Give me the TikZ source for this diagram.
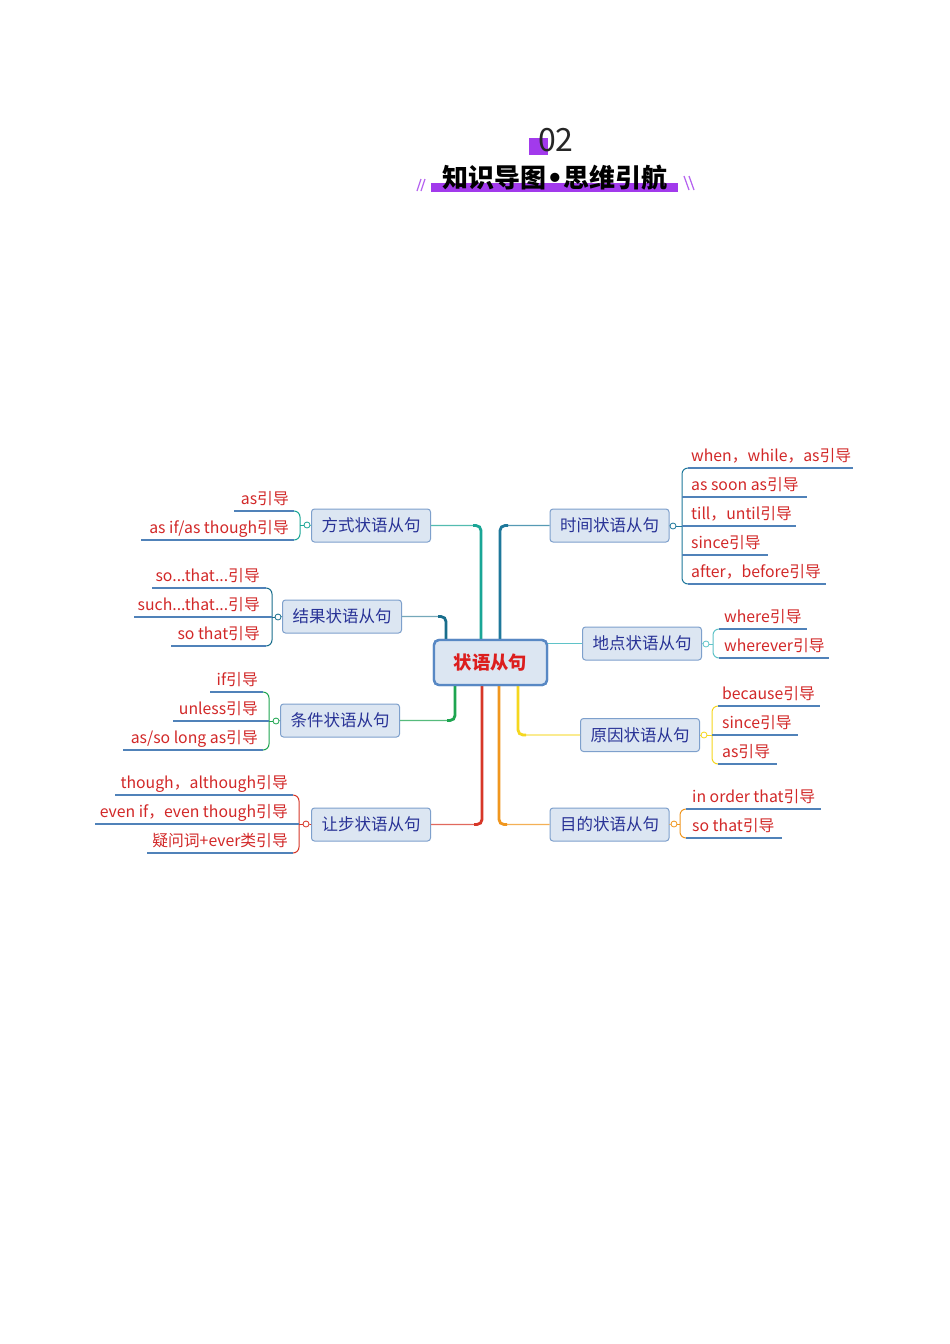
\documentclass[tikz,border=0pt]{standalone}
\usepackage{fontspec}
\setmainfont{Noto Sans CJK SC}
\newfontfamily\bulletfont{DejaVu Sans}
\usetikzlibrary{calc}
\definecolor{purp}{RGB}{162,58,236}
\definecolor{boxfill}{RGB}{220,230,242}
\definecolor{boxdraw}{RGB}{126,160,204}
\definecolor{rootdraw}{RGB}{88,136,196}
\definecolor{boxtext}{RGB}{40,50,150}
\definecolor{rootred}{RGB}{220,30,30}
\definecolor{leaftext}{RGB}{210,40,40}
\definecolor{ulcol}{RGB}{80,130,185}
\definecolor{cFang}{RGB}{26,166,150}
\definecolor{cShi}{RGB}{30,120,155}
\definecolor{cJie}{RGB}{25,110,140}
\definecolor{cDi}{RGB}{95,195,200}
\definecolor{cTiao}{RGB}{30,165,80}
\definecolor{cRang}{RGB}{215,55,40}
\definecolor{cMu}{RGB}{240,150,30}
\definecolor{cYuan}{RGB}{245,215,30}
\tikzset{
 mbox/.style={draw=boxdraw, fill=boxfill, rounded corners=3pt, line width=1pt, minimum width=119pt, minimum height=33pt, inner sep=0pt, text=boxtext, font=\fontsize{16.5}{16.5}\selectfont},
 root/.style={draw=rootdraw, fill=boxfill, rounded corners=5pt, line width=2.4pt, minimum width=113pt, minimum height=45pt, inner sep=0pt, text=rootred, font=\fontsize{18.3}{18.3}\selectfont\bfseries},
 leaf/.style={inner sep=0pt, text=leaftext, font=\fontsize{15.8}{15.8}\selectfont},
 uline/.style={draw=ulcol, line width=1.3pt},
 trunk/.style={line width=2.8pt, rounded corners=5pt},
 twig/.style={line width=1.1pt, rounded corners=5pt},
 brace/.style={line width=1pt, rounded corners=6pt},
 knob/.style={circle, draw, fill=white, inner sep=0pt, minimum size=6pt, line width=0.8pt},
}
\begin{document}
\begin{tikzpicture}[x=1pt,y=-1pt]
\useasboundingbox (0,0) rectangle (950,1344);
\fill[white] (0,0) rectangle (950,1344);

% ---------- title ----------
\fill[purp] (529,138) rectangle (548,155);
\node[anchor=base west, inner sep=0pt, text=black!85, font=\fontsize{32}{32}\selectfont] (num) at (538,151) {02};
\fill[purp] (431,183) rectangle (678,192);
\node[inner sep=0pt, text=black, font=\fontsize{26}{26}\selectfont\bfseries] (title) at (555,178) {知识导图{\bulletfont •}思维引航};
\draw[purp!80, line width=1.2pt] (417,191) -- (421,179) (421,191) -- (425,179);
\draw[purp!80, line width=1.2pt] (684,176) -- (689,190) (689,176) -- (694,190);

% ---------- main nodes ----------
\node[root] (root) at (490.5,662.5) {状语从句};
\node[mbox] (fang) at (371,525.5) {方式状语从句};
\node[mbox] (shi)  at (609.5,525.5) {时间状语从句};
\node[mbox] (jie)  at (342,616.5) {结果状语从句};
\node[mbox] (di)   at (642,643.5) {地点状语从句};
\node[mbox] (tiao) at (340,720.5) {条件状语从句};
\node[mbox] (yuan) at (640,735) {原因状语从句};
\node[mbox] (rang) at (371,824.5) {让步状语从句};
\node[mbox] (mu)   at (609.5,824.5) {目的状语从句};

% ---------- trunk bases ----------
\coordinate (rFang) at ([xshift=-9.5pt]root.north);
\coordinate (rShi)  at ([xshift=9.5pt]root.north);
\coordinate (rJie)  at ([xshift=-44.5pt]root.north);
\coordinate (rTiao) at ([xshift=-35.5pt]root.south);
\coordinate (rRang) at ([xshift=-8.5pt]root.south);
\coordinate (rMu)   at ([xshift=8.5pt]root.south);
\coordinate (rYuan) at ([xshift=27.5pt]root.south);
\coordinate (rDi)   at (root.east |- di.west);

\draw[twig,cFang!75] (rFang) |- (fang.east);
\draw[trunk,cFang] (rFang) |- ($(rFang |- fang.east)+(-8,0)$);
\draw[twig,cShi!75] (rShi) |- (shi.west);
\draw[trunk,cShi] (rShi) |- ($(rShi |- shi.west)+(8,0)$);
\draw[twig,cJie!60] (rJie) |- (jie.east);
\draw[trunk,cJie] (rJie) |- ($(rJie |- jie.east)+(-8,0)$);
\draw[twig,cDi] (rDi) -- (di.west);
\draw[twig,cTiao!75] (rTiao) |- (tiao.east);
\draw[trunk,cTiao] (rTiao) |- ($(rTiao |- tiao.east)+(-8,0)$);
\draw[twig,cRang!75] (rRang) |- (rang.east);
\draw[trunk,cRang] (rRang) |- ($(rRang |- rang.east)+(-8,0)$);
\draw[twig,cMu!75] (rMu) |- (mu.west);
\draw[trunk,cMu] (rMu) |- ($(rMu |- mu.west)+(8,0)$);
\draw[twig,cYuan!75] (rYuan) |- (yuan.west);
\draw[trunk,cYuan] (rYuan) |- ($(rYuan |- yuan.west)+(8,0)$);
\node[root] at (root) {状语从句};

% ---------- 时间 ----------
\node[knob,draw=cShi] (kShi) at (673,526) {};
\draw[cShi,line width=0.8pt] (shi.east) -- (kShi);
\draw[brace,cShi] (kShi) -- (682,526);
\draw[brace,cShi] (688,468) -- (682,468) -- (682,584) -- (688,584);
\node[leaf,anchor=base west] (s1) at (691,461) {when，while，as引导};
\node[leaf,anchor=base west] (s2) at (691,490) {as soon as引导};
\node[leaf,anchor=base west] (s3) at (691,519) {till，until引导};
\node[leaf,anchor=base west] (s4) at (691,548) {since引导};
\node[leaf,anchor=base west] (s5) at (691,577) {after，before引导};
\draw[uline] (688,468) -- (853,468);
\draw[uline] (682,497) -- (807,497);
\draw[uline] (682,526) -- (796,526);
\draw[uline] (682,555) -- (768,555);
\draw[uline] (688,584) -- (826,584);

% ---------- 地点 ----------
\node[knob,draw=cDi] (kDi) at (706,644) {};
\draw[cDi,line width=0.8pt] (di.east) -- (kDi);
\draw[brace,cDi] (kDi) -- (713,644);
\draw[brace,cDi] (719,629) -- (713,629) -- (713,658) -- (719,658);
\node[leaf,anchor=base west] (d1) at (724,622) {where引导};
\node[leaf,anchor=base west] (d2) at (724,651) {wherever引导};
\draw[uline] (719,629) -- (807,629);
\draw[uline] (719,658) -- (829,658);

% ---------- 原因 ----------
\node[knob,draw=cYuan] (kYuan) at (704,735) {};
\draw[cYuan,line width=0.8pt] (yuan.east) -- (kYuan);
\draw[brace,cYuan] (kYuan) -- (712,735);
\draw[brace,cYuan] (718,706) -- (712,706) -- (712,764) -- (718,764);
\node[leaf,anchor=base west] (y1) at (722,699) {because引导};
\node[leaf,anchor=base west] (y2) at (722,728) {since引导};
\node[leaf,anchor=base west] (y3) at (722,757) {as引导};
\draw[uline] (718,706) -- (820,706);
\draw[uline] (712,735) -- (798,735);
\draw[uline] (718,764) -- (777,764);

% ---------- 目的 ----------
\node[knob,draw=cMu] (kMu) at (674,824) {};
\draw[cMu,line width=0.8pt] (mu.east) -- (kMu);
\draw[brace,cMu] (kMu) -- (680,824);
\draw[brace,cMu] (686,809) -- (680,809) -- (680,838) -- (686,838);
\node[leaf,anchor=base west] (m1) at (692,802) {in order that引导};
\node[leaf,anchor=base west] (m2) at (692,831) {so that引导};
\draw[uline] (686,809) -- (821,809);
\draw[uline] (686,838) -- (782,838);

% ---------- 方式 ----------
\node[knob,draw=cFang] (kFang) at (307,525) {};
\draw[cFang,line width=0.8pt] (fang.west) -- (kFang);
\draw[brace,cFang] (kFang) -- (300,525);
\draw[brace,cFang] (294,511) -- (300,511) -- (300,540) -- (294,540);
\node[leaf,anchor=base east] (f1) at (289,504) {as引导};
\node[leaf,anchor=base east] (f2) at (289,533) {as if/as though引导};
\draw[uline] (234,511) -- (294,511);
\draw[uline] (141,540) -- (294,540);

% ---------- 结果 ----------
\node[knob,draw=cJie] (kJie) at (278,617) {};
\draw[cJie,line width=0.8pt] (jie.west) -- (kJie);
\draw[brace,cJie] (kJie) -- (272,617);
\draw[brace,cJie] (266,588) -- (272,588) -- (272,646) -- (266,646);
\node[leaf,anchor=base east] (j1) at (260,581) {so...that...引导};
\node[leaf,anchor=base east] (j2) at (260,610) {such...that...引导};
\node[leaf,anchor=base east] (j3) at (260,639) {so that引导};
\draw[uline] (152,588) -- (266,588);
\draw[uline] (134,617) -- (272,617);
\draw[uline] (171,646) -- (266,646);

% ---------- 条件 ----------
\node[knob,draw=cTiao] (kTiao) at (276,721) {};
\draw[cTiao,line width=0.8pt] (tiao.west) -- (kTiao);
\draw[brace,cTiao] (kTiao) -- (269,721);
\draw[brace,cTiao] (263,692) -- (269,692) -- (269,750) -- (263,750);
\node[leaf,anchor=base east] (t1) at (258,685) {if引导};
\node[leaf,anchor=base east] (t2) at (258,714) {unless引导};
\node[leaf,anchor=base east] (t3) at (258,743) {as/so long as引导};
\draw[uline] (210,692) -- (263,692);
\draw[uline] (173,721) -- (269,721);
\draw[uline] (123,750) -- (263,750);

% ---------- 让步 ----------
\node[knob,draw=cRang] (kRang) at (306,824) {};
\draw[cRang,line width=0.8pt] (rang.west) -- (kRang);
\draw[brace,cRang] (kRang) -- (299,824);
\draw[brace,cRang] (293,795) -- (299,795) -- (299,853) -- (293,853);
\node[leaf,anchor=base east] (g1) at (288,788) {though，although引导};
\node[leaf,anchor=base east] (g2) at (288,817) {even if，even though引导};
\node[leaf,anchor=base east] (g3) at (288,846) {疑问词+ever类引导};
\draw[uline] (115,795) -- (293,795);
\draw[uline] (95,824) -- (299,824);
\draw[uline] (147,853) -- (293,853);
\end{tikzpicture}
\end{document}
